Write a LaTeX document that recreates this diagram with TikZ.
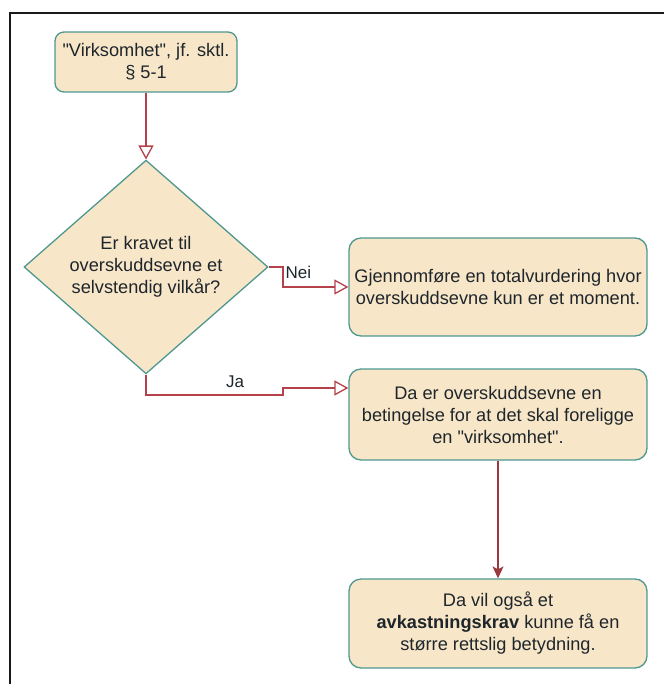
\documentclass[tikz,border=0pt]{standalone}
\usepackage{fontspec}
\setmainfont{Liberation Sans}
\usetikzlibrary{shapes.geometric,arrows.meta,calc}
\definecolor{boxfill}{HTML}{F8E6C9}
\definecolor{boxline}{HTML}{4F9890}
\definecolor{edgecol}{HTML}{B5424A}
\definecolor{txtcol}{HTML}{1E262B}
\tikzset{
  box/.style={draw=boxline, fill=boxfill, line width=1.3pt, rounded corners=12pt,
    align=center, text=txtcol, inner sep=0pt,
    font=\fontsize{18.2}{22}\selectfont},
  decision/.style={draw=boxline, fill=boxfill, line width=1.3pt, diamond,
    align=center, text=txtcol, inner sep=0pt,
    font=\fontsize{18.2}{22}\selectfont},
  flow/.style={draw=edgecol, line width=1.3pt},
  openarr/.style={flow, -{Triangle[open, length=14pt, width=15pt, line width=1.3pt]}},
  fillarr/.style={flow, -{Stealth[length=12pt, width=11pt, inset=3pt]}, draw=edgecol!85!black},
  lbl/.style={text=txtcol, font=\fontsize{17}{20}\selectfont, inner sep=0pt}
}
\begin{document}
\begin{tikzpicture}[x=1pt, y=-1pt]
\useasboundingbox (0,0) rectangle (664,684);
% frame
\draw[line width=2.2pt, black!90] (10,684) -- (10,13) -- (664,13);

\node[box, rounded corners=9pt, minimum width=182pt, minimum height=60pt] (start) at (146,62)
  {\textquotedbl Virksomhet\textquotedbl, jf. sktl.\\ § 5-1};
\node[decision, minimum width=244pt, minimum height=196pt] (dec) at (146,267)
  {Er kravet til\\ overskuddsevne et\\ selvstendig vilkår?};
\node[box, minimum width=298pt, minimum height=98pt] (b2) at (498,287)
  {Gjennomføre en totalvurdering hvor\\ overskuddsevne kun er et moment.};
\node[box, minimum width=298pt, minimum height=91pt] (b3) at (498,414.5)
  {Da er overskuddsevne en\\ betingelse for at det skal foreligge\\ en \textquotedbl virksomhet\textquotedbl.};
\node[box, minimum width=298pt, minimum height=89pt] (b4) at (498,623.5)
  {Da vil også et\\ \textbf{avkastningskrav} kunne få en\\ større rettslig betydning.};

\draw[openarr] (start.south) -- (dec.north);

\coordinate (n1) at (283,267);
\draw[openarr] (dec.east) -- (n1) |- (b2.west);
\node[lbl, anchor=west] (nei) at (285.5,272.5) {Nei};

\coordinate (j1) at (146,395);
\coordinate (j2) at (283,395);
\coordinate (j3) at (283,388);
\draw[openarr] (dec.south) -- (j1) -- (j2) -- (j3) -- (b3.west |- j3);
\node[lbl] (ja) at (235,382) {Ja};

\draw[fillarr] (b3.south) -- (b4.north);
\end{tikzpicture}
\end{document}
